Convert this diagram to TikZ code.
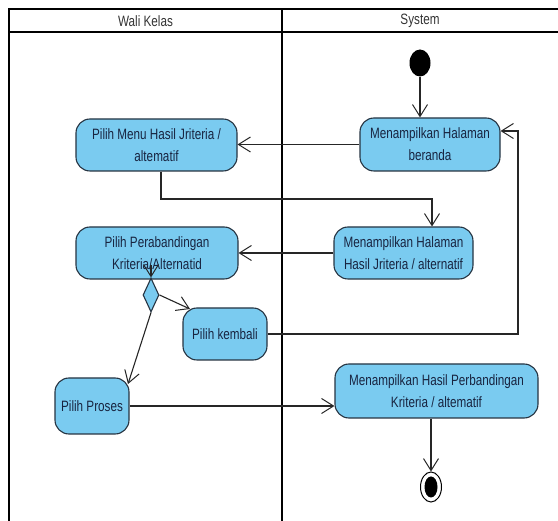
\documentclass[tikz,border=0pt]{standalone}
\usepackage{fontspec}
\setmainfont{Liberation Sans}[FakeStretch=0.78]
\usetikzlibrary{arrows.meta,shapes.geometric}

\definecolor{actfill}{RGB}{122,203,240}
\definecolor{edge}{RGB}{38,52,66}
\definecolor{ink}{RGB}{24,36,64}

\tikzset{
  act/.style={draw=edge, fill=actfill, rounded corners=14pt, line width=1.1pt,
    align=center, text=ink, inner sep=2pt,
    font=\fontsize{15}{22}\selectfont},
  flow/.style={draw=black!85, line width=1.1pt,
    -{Straight Barb[length=12pt,width=15pt,line width=1pt]}},
  frame/.style={draw=black, line width=2.2pt},
  lanetitle/.style={text=black!80, font=\fontsize{15}{18}\selectfont},
  decision/.style={diamond, draw=edge, fill=actfill, line width=1.1pt,
    minimum width=16pt, minimum height=34pt, inner sep=0pt},
}

\begin{document}
\begin{tikzpicture}[x=1pt, y=-1pt]
  \useasboundingbox (0,0) rectangle (558,521);
  \fill[white] (0,0) rectangle (558,521);
  \clip (0,0) rectangle (558,521);

  % swimlane frame
  \draw[frame] (9,540) -- (9,9) -- (570,9);
  \draw[frame] (9,32) -- (570,32);
  \draw[frame] (282,9) -- (282,540);
  \node[lanetitle] (laneA) at (145.5,21) {Wali Kelas};
  \node[lanetitle] (laneB) at (420,21) {System};

  % initial and final nodes
  \node[ellipse, fill=black, minimum width=21pt, minimum height=27pt, inner sep=0pt] (start) at (420,63) {};
  \node[ellipse, draw=black, fill=white, line width=1pt, minimum width=21pt, minimum height=30pt, inner sep=0pt] (fin) at (431,487) {};
  \node[ellipse, fill=black, minimum width=13pt, minimum height=21pt, inner sep=0pt] (finDot) at (fin.center) {};

  % actions
  \node[act, minimum width=140pt, minimum height=53pt] (A) at (430,144.5) {Menampilkan Halaman\\beranda};
  \node[act, minimum width=161pt, minimum height=52pt] (B) at (156.5,145) {Pilih Menu Hasil Jriteria /\\altematif};
  \node[act, minimum width=139pt, minimum height=52pt] (C) at (403.5,253) {Menampilkan Halaman\\Hasil Jriteria / alternatif};
  \node[act, minimum width=162pt, minimum height=52pt] (D) at (157,253) {Pilih Perabandingan\\Kriteria/Alternatid};
  \node[act, minimum width=84pt, minimum height=52pt] (E) at (225,334) {Pilih kembali};
  \node[act, minimum width=74pt, minimum height=56pt] (F) at (92,406) {Pilih Proses};
  \node[act, minimum width=203pt, minimum height=54pt] (G) at (436.5,391) {Menampilkan Hasil Perbandingan\\Kriteria / altematif};

  % decision
  \node[decision] (dm) at (151,295) {};

  % routing points
  \coordinate (bendL) at (161,199);
  \coordinate (bendR) at (432,199);
  \coordinate (loopB) at (518,334);
  \coordinate (loopT) at (518,131);
  \coordinate (dIn) at (151,265);
  \coordinate (eIn) at (190,309);
  \coordinate (fIn) at (128,384);

  % flows
  \draw[flow] (start) -- (start |- A.north);
  \draw[flow] (A.west) -- (A.west -| B.east);
  \draw[flow] (B.south -| bendL) -- (bendL) -- (bendR) -- (bendR |- C.north);
  \draw[flow] (C.west) -- (C.west -| D.east);
  \draw[flow] (dIn) -- (dm.north);
  \draw[flow] (dm.east) -- (eIn);
  \draw[flow] (dm.south) -- (fIn);
  \draw[flow] (E.east) -- (loopB) -- (loopT) -- (loopT -| A.east);
  \draw[flow] (F.east) -- (F.east -| G.west);
  \draw[flow] (fin |- G.south) -- (fin.north);
\end{tikzpicture}
\end{document}
